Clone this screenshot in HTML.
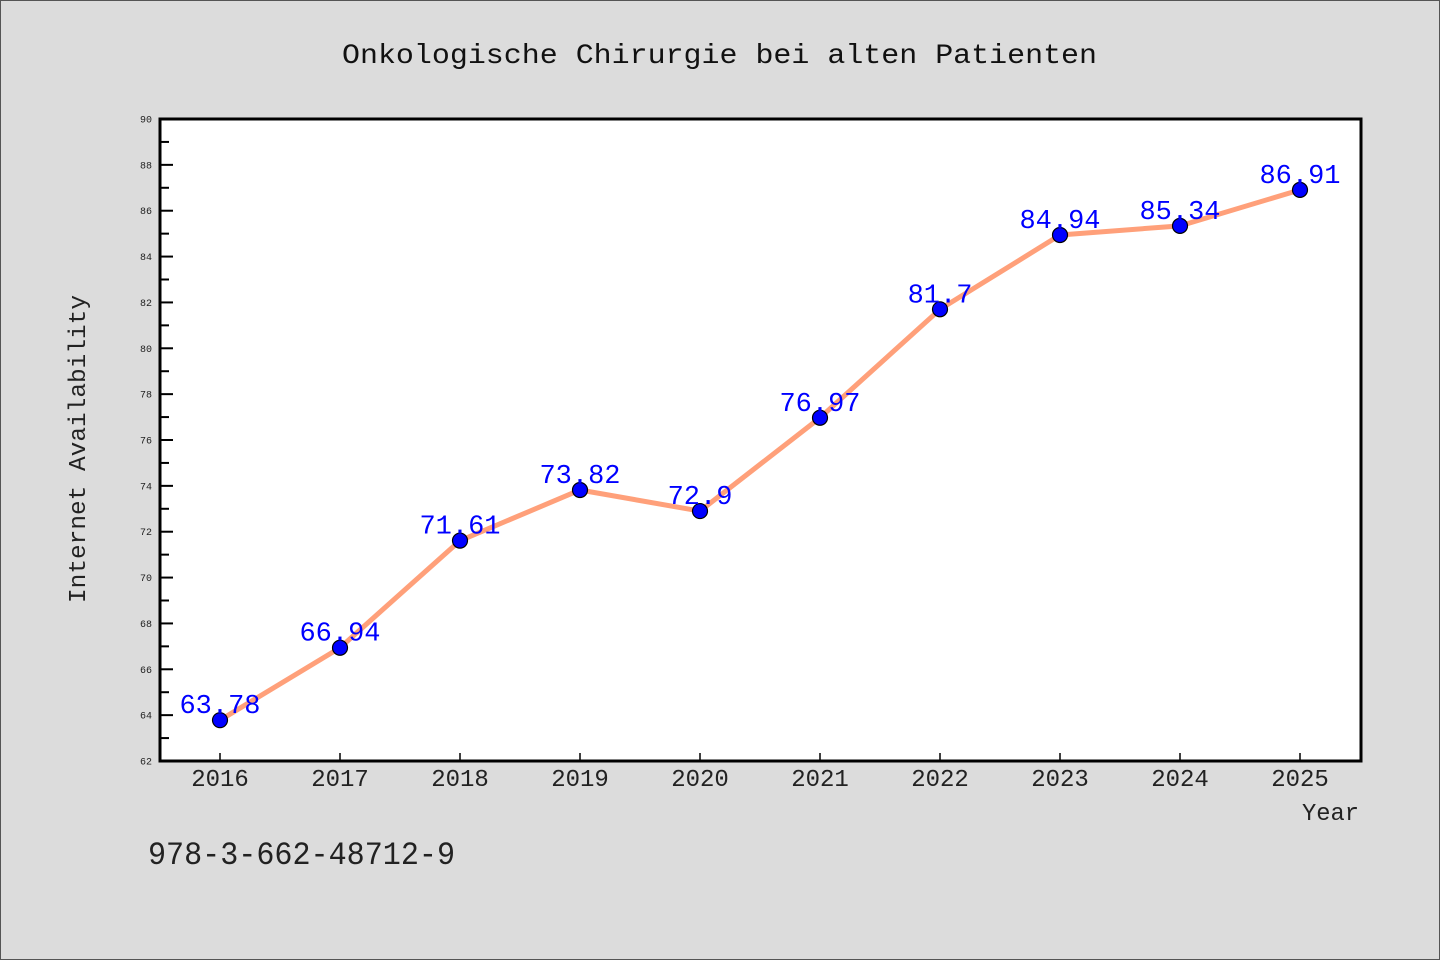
<!DOCTYPE html>
<html><head><meta charset="utf-8"><style>
html,body{margin:0;padding:0;}
body{width:1440px;height:960px;background:#dcdcdc;overflow:hidden;}
svg{display:block;}
text{font-family:"WenQuanYi Zen Hei Mono","WenQuanYi Zen Hei","Liberation Mono",monospace;}
</style></head><body>
<svg id="chart" width="1440" height="960" xmlns="http://www.w3.org/2000/svg">
<rect x="0.5" y="0.5" width="1439" height="959" fill="#dcdcdc" stroke="#555" stroke-width="1"/>
<text x="342" y="63" textLength="755" lengthAdjust="spacingAndGlyphs" font-size="28" fill="#111">Onkologische Chirurgie bei alten Patienten</text>
<rect x="160" y="119" width="1201" height="642" fill="#fff"/>
<g id="yticks"></g><g id="xticks"></g>
<g id="series"></g>
<rect x="160" y="119" width="1201" height="642" fill="none" stroke="#000" stroke-width="3"/>
<text x="85" y="603" transform="rotate(-90 85 603)" textLength="308" lengthAdjust="spacingAndGlyphs" font-size="24" fill="#222">Internet Availability</text>
<text x="1302" y="820" textLength="57" lengthAdjust="spacingAndGlyphs" font-size="24" fill="#222">Year</text>
<text x="148" y="864" textLength="307" lengthAdjust="spacingAndGlyphs" font-size="32" fill="#222">978-3-662-48712-9</text>
</svg>
<script>
const categories=["2016","2017","2018","2019","2020","2021","2022","2023","2024","2025"];
const values=[63.78,66.94,71.61,73.82,72.9,76.97,81.7,84.94,85.34,86.91];
const valueLabels=["63.78","66.94","71.61","73.82","72.9","76.97","81.7","84.94","85.34","86.91"];
const yTicks=[62,64,66,68,70,72,74,76,78,80,82,84,86,88,90];
(function(){
const NS="http://www.w3.org/2000/svg";
const yMin=62,yMax=90,yTop=119,yBot=761;
function y(v){return yBot-(v-yMin)/(yMax-yMin)*(yBot-yTop);}
function x(i){return 220+i*120;}
function mk(t,a,p){const e=document.createElementNS(NS,t);for(const k in a)e.setAttribute(k,a[k]);p.appendChild(e);return e;}
const yt=document.getElementById('yticks');
yTicks.forEach((v,i)=>{
  const l=mk('line',{x1:160,x2:173,y1:y(v),y2:y(v),stroke:'#000','stroke-width':2},yt);
  
  
  const t=mk('text',{x:152,y:y(v)+3.5,'text-anchor':'end','font-size':10,fill:'#222'},yt);
  t.textContent=v;
  
  
  if(i<yTicks.length-1){
    const m=mk('line',{x1:160,x2:169,y1:y(v+1),y2:y(v+1),stroke:'#000','stroke-width':2},yt);
    
    
  }
});
const xt=document.getElementById('xticks');
categories.forEach((c,i)=>{
  const l=mk('line',{x1:x(i),x2:x(i),y1:753,y2:761,stroke:'#000','stroke-width':1.5},xt);
  
  
  const t=mk('text',{x:x(i),y:786,'text-anchor':'middle','font-size':24,fill:'#222'},xt);
  t.textContent=c;
  
  
});
const s=document.getElementById('series');
const pl=mk('polyline',{points:values.map((v,i)=>x(i)+','+y(v)).join(' '),fill:'none',stroke:'#ffa07a','stroke-width':5,'stroke-linejoin':'round'},s);


values.forEach((v,i)=>{
  const c=mk('circle',{cx:x(i),cy:y(v),r:7.5,fill:'#0000ff',stroke:'#000','stroke-width':1.2},s);
  
  
});
values.forEach((v,i)=>{
  const t=mk('text',{x:x(i),y:y(v)-7,'text-anchor':'middle','font-size':27,fill:'#0000ff'},s);
  t.textContent=valueLabels[i];
  
  
});
})();
</script>
</body></html>
